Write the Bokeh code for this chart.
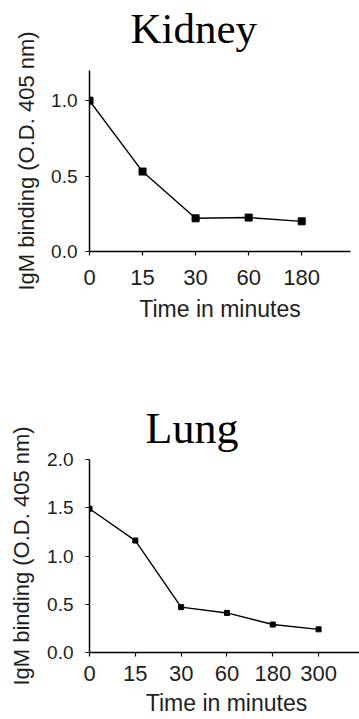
from bokeh.plotting import figure
from bokeh.layouts import column
from bokeh.models import Range1d, FixedTicker, Title, ColumnDataSource, PrintfTickFormatter
from bokeh.embed import file_html
from bokeh.resources import INLINE

# ---- data ----
kidney_times = ["0", "15", "30", "60", "180"]
kidney_igm = [1.00, 0.53, 0.22, 0.225, 0.20]

lung_times = ["0", "15", "30", "60", "180", "300"]
lung_igm = [1.49, 1.16, 0.47, 0.41, 0.29, 0.24]

kidney_yticks = [0.0, 0.5, 1.0]
lung_yticks = [0.0, 0.5, 1.0, 1.5, 2.0]

SANS = "Liberation Sans"
SERIF = "Liberation Serif"
TXT = "#1e1e1e"


def make_panel(title, times, vals, yticks, ymax, xmax, fw, fh, borders,
               title_cfg, marker_size, fonts):
    left, right, top, bottom = borders
    p = figure(frame_width=fw, frame_height=fh, output_backend="svg",
               toolbar_location=None, x_range=Range1d(0, xmax),
               y_range=Range1d(0, ymax),
               min_border_left=left, min_border_right=right,
               min_border_top=top, min_border_bottom=bottom)
    p.outline_line_color = None
    p.grid.visible = False
    p.background_fill_color = "white"

    # thin spacer panel right above the frame, lifting the title
    spacer = Title(text=" ", text_font_size="1px", standoff=title_cfg["gap"],
                   text_color="white")
    p.add_layout(spacer, "above")
    t = Title(text=title, text_font=SERIF, text_font_size=title_cfg["size"],
              text_font_style="normal", text_color="black", align="left",
              offset=title_cfg["offset"], standoff=0,
              vertical_align="bottom")
    p.add_layout(t, "above")

    xs = list(range(len(times)))
    src = ColumnDataSource(dict(x=xs, y=vals, t=times))
    p.line("x", "y", source=src, line_color="black", line_width=1.4)
    p.scatter("x", "y", source=src, marker="square", size=marker_size,
              fill_color="black", line_color="black")

    xa = p.xaxis[0]
    xa.ticker = FixedTicker(ticks=xs)
    xa.major_label_overrides = {i: lab for i, lab in enumerate(times)}
    xa.axis_label = "Time in minutes"
    ya = p.yaxis[0]
    ya.ticker = FixedTicker(ticks=yticks)
    ya.formatter = PrintfTickFormatter(format="%.1f")
    ya.axis_label = "IgM binding (O.D. 405 nm)"

    for ax in (xa, ya):
        ax.axis_line_color = "black"
        ax.axis_line_width = 1.5
        ax.major_tick_line_color = "black"
        ax.major_tick_line_width = 1.2
        ax.major_tick_in = 0
        ax.major_tick_out = 4
        ax.minor_tick_line_color = None
        ax.major_label_text_font = SANS
        ax.major_label_text_color = TXT
        ax.axis_label_text_font = SANS
        ax.axis_label_text_font_style = "normal"
        ax.axis_label_text_color = TXT

    xa.major_label_text_font_size = fonts["xtick"]
    xa.major_label_standoff = fonts["xstand"]
    xa.axis_label_text_font_size = fonts["xlab"]
    xa.axis_label_standoff = fonts["xlabstand"]
    ya.major_label_text_font_size = fonts["ytick"]
    ya.major_label_standoff = fonts["ystand"]
    ya.axis_label_text_font_size = fonts["ylab"]
    ya.axis_label_standoff = fonts["ylabstand"]
    return p


p1 = make_panel("Kidney", kidney_times, kidney_igm, kidney_yticks, 1.2, 4.92,
                261, 181, (89, 9, 70, 109),
                dict(size="43px", offset=41, gap=16),
                7,
                dict(xtick="22px", xstand=14, xlab="23px", xlabstand=8,
                     ytick="19px", ystand=8, ylabstand=9, ylab="22px"))

p2 = make_panel("Lung", lung_times, lung_igm, lung_yticks, 2.0, 5.98,
                274, 193, (84, 1, 99, 67),
                dict(size="44px", offset=56, gap=4),
                5,
                dict(xtick="22px", xstand=9, xlab="23px", xlabstand=6,
                     ytick="19px", ystand=12, ylabstand=10, ylab="22px"))

layout = column(p1, p2, spacing=0)
open("out.html", "w").write(file_html(layout, INLINE))
